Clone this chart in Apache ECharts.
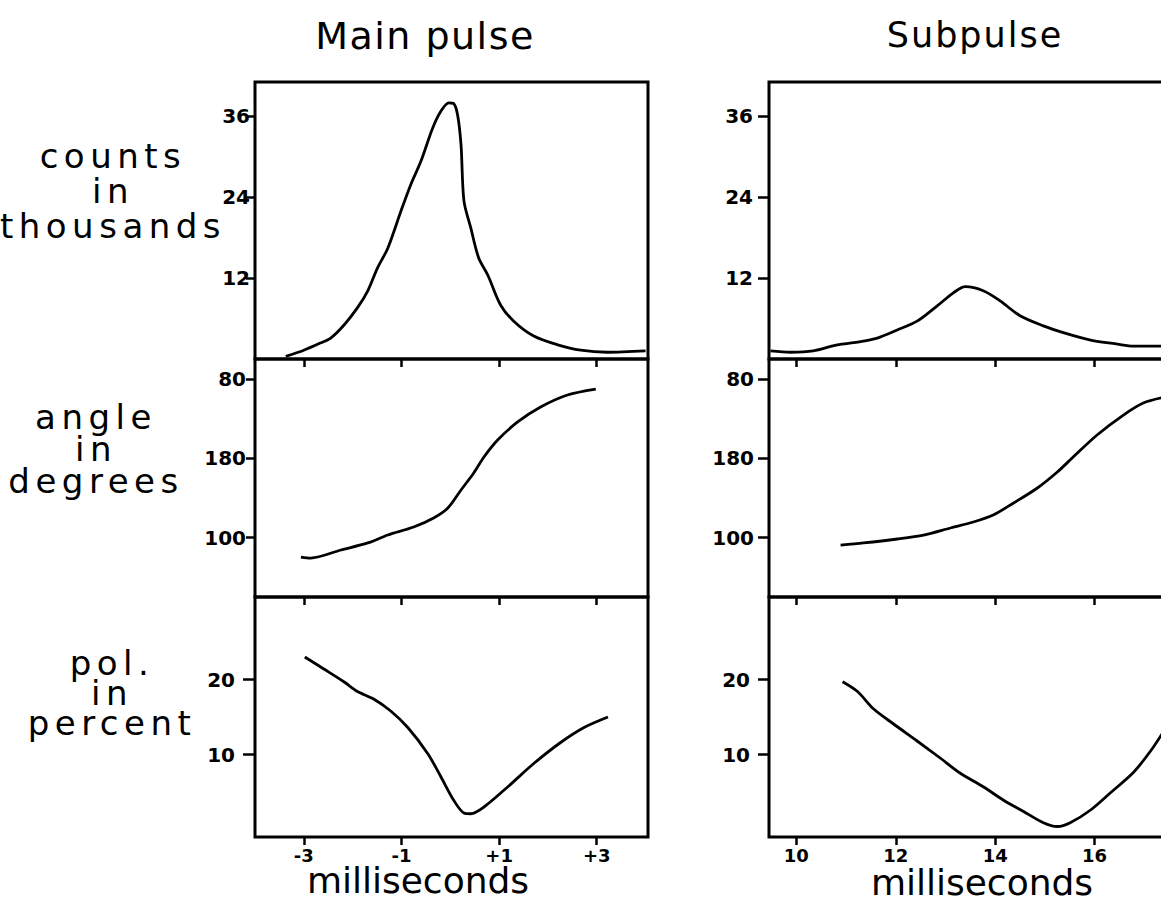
<!DOCTYPE html>
<html>
<head>
<meta charset="utf-8">
<script src="https://cdn.jsdelivr.net/npm/echarts@6/dist/echarts.min.js"></script>
<style>
  html, body { margin: 0; padding: 0; background: #fff; }
  #chart { width: 1161px; height: 904px; }
</style>
</head>
<body>
<div id="chart"></div>
<script>
// ---------------- data ----------------
const mainCounts = [[-3.37,0.4],[-3.0,1.3],[-2.65,2.4],[-2.45,3.1],[-2.18,5.0],[-1.9,7.6],[-1.69,10.1],[-1.49,13.5],[-1.28,16.4],[-1.01,21.9],[-0.81,25.8],[-0.6,29.3],[-0.36,34.2],[-0.19,36.7],[-0.03,37.9],[0.07,37.8],[0.15,36.1],[0.22,31.7],[0.28,23.4],[0.42,19.4],[0.58,15.0],[0.77,12.4],[1.03,8.0],[1.3,5.6],[1.71,3.4],[2.2,2.1],[2.67,1.3],[3.22,1.0],[4.0,1.2]];
const mainAngle = [[-3.06,80.3],[-2.86,79.3],[-2.24,87.4],[-1.69,94.5],[-1.28,102.5],[-0.75,110.6],[-0.34,119.7],[-0.05,129.7],[0.22,147.9],[0.48,165],[0.69,181.2],[0.97,198.3],[1.38,216.5],[1.85,231.6],[2.4,243.7],[2.98,249.7]];
const mainPol = [[-2.98,23.0],[-2.59,21.4],[-2.18,19.7],[-1.9,18.4],[-1.57,17.4],[-1.22,15.8],[-0.87,13.6],[-0.46,10.1],[-0.19,7.0],[0.07,3.9],[0.28,2.2],[0.42,2.1],[0.69,3.0],[1.18,5.7],[1.71,8.8],[2.26,11.6],[2.74,13.6],[3.23,15.0]];
const subCounts = [[9.48,1.2],[9.88,1.0],[10.34,1.2],[10.82,2.1],[11.23,2.5],[11.63,3.1],[12.03,4.3],[12.43,5.6],[12.84,7.9],[13.16,9.8],[13.4,10.7],[13.76,10.1],[14.1,8.6],[14.5,6.4],[14.97,4.9],[15.37,3.9],[15.92,2.8],[16.46,2.2],[16.78,1.9],[17.4,1.9]];
const subAngle = [[10.89,92.4],[11.35,94.5],[12.03,98.5],[12.56,102.5],[13.1,109.6],[13.56,115.6],[13.96,122.7],[14.37,134.8],[14.85,149.9],[15.25,166],[15.57,181.2],[16.05,203.4],[16.58,223.5],[16.98,235.6],[17.4,241.5]];
const subPol = [[10.93,19.7],[11.23,18.4],[11.55,16.1],[11.95,14.1],[12.43,11.8],[12.9,9.5],[13.3,7.5],[13.76,5.7],[14.17,3.9],[14.57,2.4],[14.97,0.9],[15.25,0.4],[15.51,0.9],[15.92,2.6],[16.32,4.9],[16.78,7.6],[17.13,10.5],[17.4,13.2]];

// tick values and labels
const mainXTicks = [-3, -1, 1, 3];
const mainXLabels = ['-3', '-1', '+1', '+3'];
const subXTicks = [10, 12, 14, 16];
const subXLabels = ['10', '12', '14', '16'];
const countTicks = [12, 24, 36];
const countLabels = ['12', '24', '36'];
const angleTicks = [100, 180, 260];
const angleLabels = ['100', '180', '80'];
const polTicks = [10, 20];
const polLabels = ['10', '20'];

const panelTitles = ['Main pulse', 'Subpulse'];
const rowLabels = ['counts\nin\nthousands', 'angle\nin\ndegrees', 'pol.\nin\npercent'];
const xAxisTitle = 'milliseconds';

// ---------------- layout ----------------
const rows = [{top: 82, height: 277}, {top: 359, height: 238}, {top: 597, height: 240}];
const cols = [{left: 255, width: 393, min: -4.0, max: 4.05, ticks: mainXTicks, labels: mainXLabels},
              {left: 769, width: 425, min: 9.45, max: 18.0, ticks: subXTicks, labels: subXLabels}];
const yDefs = [
  {min: 0, max: 41, ticks: countTicks, labels: countLabels},
  {min: 40, max: 280, ticks: angleTicks, labels: angleLabels},
  {min: -1, max: 31, ticks: polTicks, labels: polLabels}
];
const yMargins = [[5, 16], [9, 15], [20, 19]];
const yTickLen = [[9, 11], [9, 11], [12, 11]];
const seriesData = [[mainCounts, subCounts], [mainAngle, subAngle], [mainPol, subPol]];

function labelFor(ticks, labels) {
  return function (v) {
    let best = 0, d = Infinity;
    ticks.forEach((t, i) => { const dd = Math.abs(t - v); if (dd < d) { d = dd; best = i; } });
    return labels[best];
  };
}

const yTickFont = {fontFamily: 'DejaVu Sans', fontWeight: 'bold', fontSize: 20, color: '#000'};
const xTickFont = {fontFamily: 'DejaVu Sans', fontWeight: 'bold', fontSize: 18, color: '#000'};
const grid = [], xAxis = [], yAxis = [], series = [];
let idx = 0;
for (let c = 0; c < 2; c++) {
  for (let r = 0; r < 3; r++) {
    const col = cols[c], row = rows[r], yd = yDefs[r];
    grid.push({left: col.left, width: col.width, top: row.top, height: row.height,
               outerBoundsMode: 'none', containLabel: false,
               show: true, borderColor: '#000', borderWidth: 3, backgroundColor: 'transparent'});
    xAxis.push({
      type: 'value', gridIndex: idx, min: col.min, max: col.max,
      axisLine: {show: false, onZero: false},
      splitLine: {show: false},
      axisTick: {show: true, inside: false, length: 8, customValues: col.ticks,
                 lineStyle: {color: '#000', width: 2.5}},
      axisLabel: {show: r === 2, customValues: col.ticks, margin: 9,
                  formatter: labelFor(col.ticks, col.labels), ...xTickFont}
    });
    yAxis.push({
      type: 'value', gridIndex: idx, min: yd.min, max: yd.max,
      axisLine: {show: false, onZero: false},
      splitLine: {show: false},
      axisTick: {show: true, inside: false, length: yTickLen[r][c], customValues: yd.ticks,
                 lineStyle: {color: '#000', width: 2.5}},
      axisLabel: {show: true, customValues: yd.ticks, margin: yMargins[r][c],
                  formatter: labelFor(yd.ticks, yd.labels), ...yTickFont}
    });
    series.push({
      type: 'line', xAxisIndex: idx, yAxisIndex: idx, data: seriesData[r][c],
      showSymbol: false, symbol: 'none', smooth: 0.3, silent: true,
      lineStyle: {color: '#000', width: 2.8}
    });
    idx++;
  }
}

function txt(text, x, y, size, lineHeight) {
  const style = {text, x, y, font: 'normal ' + size + 'px "DejaVu Sans"', fill: '#000',
                 textAlign: 'center', textVerticalAlign: 'middle', align: 'center', verticalAlign: 'middle'};
  if (lineHeight) style.lineHeight = lineHeight;
  return {type: 'text', silent: true, style};
}
const graphic = [
  txt(panelTitles[0], 425, 36, 38),
  txt(panelTitles[1], 975, 35, 35),
  txt(rowLabels[0], 113, 191, 34, 35),
  txt(rowLabels[1], 96, 449, 34, 32),
  txt(rowLabels[2], 112, 693, 34, 30),
  txt(xAxisTitle, 418, 880, 36),
  txt(xAxisTitle, 982, 882, 36)
];

const chart = echarts.init(document.getElementById('chart'), null, {renderer: 'svg', width: 1161, height: 904});
chart.setOption({
  animation: false,
  backgroundColor: '#fff',
  grid, xAxis, yAxis, series, graphic
});

// letter spacing for the hand-lettered words (SVG renderer)
const spacing = {'counts': 5.5, 'in': 5.5, 'thousands': 5.5, 'angle': 5.5, 'degrees': 5.5,
                 'pol.': 5.5, 'percent': 5.5, 'Main pulse': 1.5, 'Subpulse': 2};
function applySpacing() {
  document.querySelectorAll('#chart text').forEach(t => {
    const k = t.textContent;
    if (spacing[k] !== undefined) t.setAttribute('letter-spacing', spacing[k]);
  });
}
applySpacing();
chart.on('finished', applySpacing);
requestAnimationFrame(applySpacing);
setTimeout(applySpacing, 50);
</script>
</body>
</html>
